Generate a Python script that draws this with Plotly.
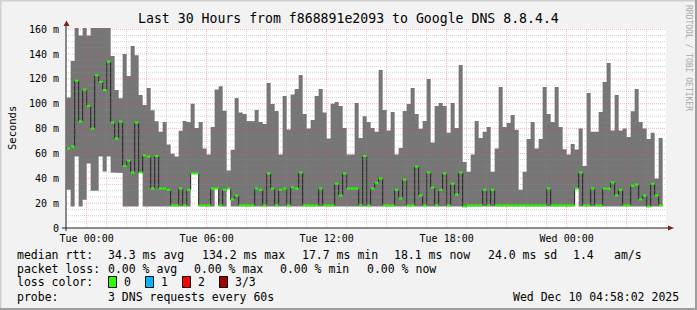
import plotly.graph_objects as go
import pandas as pd

# ---------------- data ----------------
start_time = "2025-12-08 23:00:00"     # first 12-minute bin
step = "12min"
range_start = "2025-12-08 22:58:02"
range_end = "2025-12-10 04:58:02"

smoke_max = [
    105, 134.5, 175, 155, 175, 155, 175, 175, 175, 175,
    175, 138.5, 111, 104.5, 140, 122.4, 146.5, 139, 107, 99,
    112.8, 94.8, 85.9, 77.4, 85.4, 67.2, 59.7, 57.5, 78.2, 86.2,
    85.4, 100, 80.6, 85.4, 64, 59.1, 81.4, 111.5, 114.2, 94.3,
    46.3, 62.9, 104.7, 93, 91.8, 86.2, 86, 95, 85.4, 83.8,
    116.8, 99.9, 94.2, 59.1, 106.3, 79.2, 107.4, 111.9, 123.2, 91.8,
    80, 87, 106.3, 111.9, 92.9, 72, 100.1, 101.5, 98.3, 80.6,
    59.1, 59.1, 100.7, 72.5, 90, 85.4, 80.6, 77.4, 127.2, 95,
    78.4, 93.4, 59.1, 64.5, 94.2, 99.9, 112.7, 91.8, 79.8, 86.2,
    120, 68.8, 98.3, 100.7, 98.3, 76.6, 100.7, 80.6, 131.2, 53.2,
    45.2, 59.1, 86.2, 72.5, 77.4, 81.4, 45.2, 64, 113.5, 81.4,
    84.6, 91, 79, 30.7, 45.2, 71.7, 85.4, 64, 71.7, 113.5,
    91.8, 85.4, 113.5, 81.4, 63.3, 59.1, 67.7, 63.2, 80, 50,
    108.7, 77.4, 77.4, 93.4, 117.6, 132.8, 78.4, 107.1, 78.4, 80,
    73.3, 94, 111.9, 85.4, 80, 71.7, 76.6, 39.8, 72.5,
]

smoke_min = [
    30.8, 17.4, 57.6, 17.4, 22.7, 52, 30, 30, 57.6, 45.5,
    57.6, 44.7, 44.7, 44.3, 17.4, 17.4, 17.4, 17.4, 44.7, 17.4,
    17.4, 17.4, 17.4, 17.4, 17.4, 17.4, 17.4, 17.4, 17.4, 17.4,
    17.4, 44, 44, 17.4, 17.4, 17.4, 17.4, 31.8, 17.4, 17.4,
    31.8, 17.4, 17.4, 17.4, 17.4, 17.4, 17.4, 17.4, 17.4, 17.4,
    17.4, 17.4, 17.4, 17.4, 17.4, 17.4, 17.4, 17.4, 17.4, 17.4,
    17.4, 17.4, 17.4, 17.4, 17.4, 17.4, 17.4, 17.4, 17.4, 17.4,
    17.4, 17.4, 17.4, 17.4, 17.4, 17.4, 17.4, 17.4, 17.4, 17.4,
    17.4, 17.4, 17.4, 17.4, 17.4, 17.4, 17.4, 17.4, 17.4, 17.4,
    17.4, 17.4, 17.4, 17.4, 17.4, 17.4, 17.4, 17.4, 17.4, 16.8,
    17.4, 17.4, 17.4, 17.4, 17.4, 17.4, 17.4, 17.4, 17.4, 17.4,
    17.4, 17.4, 17.4, 17.4, 17.4, 17.4, 17.4, 17.4, 17.4, 17.4,
    17.4, 17.4, 17.4, 17.4, 17.4, 17.4, 17.4, 31.8, 17.4, 17.4,
    17.4, 17.4, 17.4, 17.4, 17.4, 17.4, 17.4, 17.4, 17.4, 17.4,
    17.4, 17.4, 17.4, 17.4, 17.4, 16.8, 17.4, 17.4, 17.4,
]

median_rtt = [
    64, 65.6, 118.6, 85.7, 111.4, 98.3, 80, 122.9, 117.6, 111.1,
    133.9, 84.9, 72, 85.7, 50, 54.3, 44.7, 84.9, 44.7, 58.3,
    57.5, 31.8, 58, 31.8, 31.8, 30.7, 18.2, 18.2, 31.8, 18.2,
    30.7, 43.9, 43.9, 18.2, 18.2, 18.2, 31.8, 31.8, 18.2, 30.7,
    31.8, 23, 26.2, 18.2, 18.2, 18.2, 18.2, 31.8, 30.7, 18.2,
    43.9, 31.8, 18.2, 30.7, 31.8, 18.2, 32.6, 31.8, 44.7, 18.2,
    18.2, 18.2, 18.2, 31.8, 18.2, 18.2, 18.2, 35.6, 26.2, 43.9,
    31.8, 31.8, 31.8, 18.2, 58, 18.2, 31.8, 36.4, 39.8, 18.2,
    18.2, 18.2, 30.7, 23.8, 39, 18.2, 18.2, 49.5, 26.2, 18.2,
    44.7, 32.6, 18.2, 30.7, 43.9, 18.2, 35.6, 27, 44.7, 17.3,
    18.2, 18.2, 18.2, 18.2, 30.7, 18.2, 30.7, 18.2, 18.2, 18.2,
    18.2, 18.2, 18.2, 18.2, 18.2, 18.2, 18.2, 18.2, 18.2, 18.2,
    31.8, 18.2, 18.2, 18.2, 18.2, 18.2, 18.2, 31.8, 44.7, 18.2,
    18.2, 31.8, 18.2, 18.2, 31.8, 31.8, 36.6, 26.2, 30.7, 18.2,
    18.2, 34, 35, 22.9, 26.2, 17.3, 35.6, 26.2, 18.2,
]

loss_count = [0] * len(median_rtt)

y_tick_values = [0, 20, 40, 60, 80, 100, 120, 140, 160]
y_tick_labels = ["0", "20 m", "40 m", "60 m", "80 m", "100 m", "120 m", "140 m", "160 m"]
x_tick_values = ["2025-12-09 00:00", "2025-12-09 06:00", "2025-12-09 12:00",
                 "2025-12-09 18:00", "2025-12-10 00:00"]
x_tick_labels = ["Tue 00:00", "Tue 06:00", "Tue 12:00", "Tue 18:00", "Wed 00:00"]

title_text = "Last 30 Hours from f868891e2093 to Google DNS 8.8.4.4"
legend_rows = [
    [(16, "median rtt:"), (107, "34.3 ms avg"), (200.5, "134.2 ms max"),
     (301, "17.7 ms min"), (393, "18.1 ms now"), (486.5, "24.0 ms sd"),
     (571.5, "1.4"), (613, "am/s")],
    [(16, "packet loss:"), (107, "0.00 % avg"), (193, "0.00 % max"),
     (279, "0.00 % min"), (365.5, "0.00 % now")],
    [(16, "loss color:"), (123, "0"), (160, "1"), (197, "2"), (234, "3/3")],
    [(16, "probe:"), (107, "3 DNS requests every 60s")],
]
loss_colors = ["#26ff00", "#00b8ff", "#ff0000", "#a00000"]
timestamp_text = "Wed Dec 10 04:58:02 2025"

# ---------------- geometry helpers ----------------
W, H = 697, 310
ML, MR, MT, MB = 66, 31, 28, 82
PW, PH = W - ML - MR, H - MT - MB
Y_TOP = 161.0


def px(x):
    return (x - ML) / PW


def py(y):
    return (H - MB - y) / PH


FONT = "DejaVu Sans Mono"
SMOKE = "#767676"

bins = pd.date_range(start_time, periods=len(median_rtt) + 1, freq=step)

fig = go.Figure()

# smoke (min..max) as one stepped, filled outline: along the maxima, back along the minima
n = len(smoke_max)
sx, sy = [], []
for i in range(n):
    sx += [bins[i], bins[i + 1]]
    sy += [smoke_max[i], smoke_max[i]]
for i in range(n - 1, -1, -1):
    sx += [bins[i + 1], bins[i]]
    sy += [smoke_min[i], smoke_min[i]]
fig.add_trace(go.Scatter(
    x=sx, y=sy, mode="lines", fill="toself", fillcolor=SMOKE,
    line=dict(width=0, color=SMOKE), hoverinfo="skip",
))

# median connector line (dark)
fig.add_trace(go.Scatter(
    x=list(bins), y=median_rtt + [median_rtt[-1]],
    mode="lines", line=dict(color="#202020", width=1, shape="hv"),
    hoverinfo="skip",
))

# median colored by loss
for lc, col in enumerate(loss_colors):
    xs, ys = [], []
    for i, m in enumerate(median_rtt):
        if loss_count[i] == lc:
            xs += [bins[i], bins[i + 1], None]
            ys += [m, m, None]
    if xs:
        fig.add_trace(go.Scatter(x=xs, y=ys, mode="lines",
                                 line=dict(color=col, width=2),
                                 hoverinfo="skip"))

shapes = []
GRID = "rgba(143,143,143,0.38)"
MGRID = "rgba(222,80,80,0.42)"
DASH = "1px,1px"

# vertical grid (hourly minor, 3-hourly major) drawn above data
for t in pd.date_range("2025-12-09 00:00", "2025-12-10 04:00", freq="1h"):
    col = MGRID if t.hour % 3 == 0 else GRID
    shapes.append(dict(type="line", xref="x", yref="paper", x0=t, x1=t, y0=0, y1=1,
                       line=dict(color=col, width=1, dash=DASH), layer="above"))
# horizontal grid
for v in range(5, 161, 5):
    col = MGRID if v % 20 == 0 else GRID
    shapes.append(dict(type="line", xref="paper", yref="y", x0=0, x1=1, y0=v, y1=v,
                       line=dict(color=col, width=1, dash=DASH), layer="above"))

# axes lines and arrows
shapes.append(dict(type="line", xref="paper", yref="paper", x0=px(62), x1=px(669),
                   y0=0, y1=0, line=dict(color="#1f1f1f", width=1), layer="above"))
shapes.append(dict(type="line", xref="paper", yref="paper", x0=0, x1=0,
                   y0=py(231), y1=py(24), line=dict(color="#1f1f1f", width=1), layer="above"))
shapes.append(dict(type="path", xref="paper", yref="paper",
                   path=f"M {px(668)} {py(225.5)} L {px(674)} {py(228)} L {px(668)} {py(230.5)} Z",
                   fillcolor="#801f1f", line=dict(width=0), layer="above"))
shapes.append(dict(type="path", xref="paper", yref="paper",
                   path=f"M {px(63.5)} {py(26)} L {px(66.5)} {py(20.5)} L {px(69.5)} {py(26)} Z",
                   fillcolor="#801f1f", line=dict(width=0), layer="above"))

# frame shading
shapes.append(dict(type="rect", xref="paper", yref="paper", x0=px(0), x1=px(697),
                   y0=py(0), y1=py(1.5), fillcolor="#cfcfcf", line=dict(width=0), layer="below"))
shapes.append(dict(type="rect", xref="paper", yref="paper", x0=px(0), x1=px(1.5),
                   y0=py(0), y1=py(310), fillcolor="#cfcfcf", line=dict(width=0), layer="below"))
shapes.append(dict(type="rect", xref="paper", yref="paper", x0=px(0), x1=px(697),
                   y0=py(308), y1=py(310), fillcolor="#9e9e9e", line=dict(width=0), layer="below"))
shapes.append(dict(type="rect", xref="paper", yref="paper", x0=px(695), x1=px(697),
                   y0=py(0), y1=py(310), fillcolor="#9e9e9e", line=dict(width=0), layer="below"))

# loss colour boxes
for bx, col in zip([108.5, 145.5, 182.5, 219.5], loss_colors):
    shapes.append(dict(type="rect", xref="paper", yref="paper", x0=px(bx), x1=px(bx + 8),
                       y0=py(276.5), y1=py(287.5), fillcolor=col,
                       line=dict(color="#000000", width=1), layer="above"))

annotations = []
annotations.append(dict(text=title_text, xref="paper", yref="paper", x=px(348), y=py(18.5),
                        xanchor="center", yanchor="middle", showarrow=False,
                        font=dict(family=FONT, size=13.2, color="#000")))
annotations.append(dict(text="Seconds", xref="paper", yref="paper", x=px(12), y=py(128),
                        xanchor="center", yanchor="middle", showarrow=False, textangle=-90,
                        font=dict(family=FONT, size=10.5, color="#000")))
annotations.append(dict(text="RRDTOOL / TOBI OETIKER", xref="paper", yref="paper",
                        x=px(689), y=py(58), xanchor="center", yanchor="middle",
                        showarrow=False, textangle=90,
                        font=dict(family=FONT, size=8, color="#a8a8a8")))
row_y = [254.5, 268.5, 282, 296.5]
for ry, row in zip(row_y, legend_rows):
    for xx, txt in row:
        annotations.append(dict(text=txt, xref="paper", yref="paper", x=px(xx - 1), y=py(ry),
                                xanchor="left", yanchor="middle", showarrow=False,
                                font=dict(family=FONT, size=11.5, color="#000")))
annotations.append(dict(text=timestamp_text, xref="paper", yref="paper", x=px(681), y=py(296.5),
                        xanchor="right", yanchor="middle", showarrow=False,
                        font=dict(family=FONT, size=11.5, color="#000")))

fig.update_layout(
    width=W, height=H,
    margin=dict(l=ML, r=MR, t=MT, b=MB, pad=0),
    paper_bgcolor="#f2f2f2", plot_bgcolor="#ffffff",
    showlegend=False,
    shapes=shapes, annotations=annotations,
    xaxis=dict(type="date", range=[range_start, range_end],
               tickmode="array", tickvals=x_tick_values, ticktext=x_tick_labels,
               showgrid=False, zeroline=False, showline=False, ticks="",
               ticklabelstandoff=3,
               tickfont=dict(family=FONT, size=10, color="#000")),
    yaxis=dict(range=[0, Y_TOP], tickmode="array", tickvals=y_tick_values,
               ticktext=y_tick_labels, showgrid=False, zeroline=False, showline=False,
               ticks="", ticklabelstandoff=6,
               tickfont=dict(family=FONT, size=10, color="#000")),
)

fig.write_html("out.html")
